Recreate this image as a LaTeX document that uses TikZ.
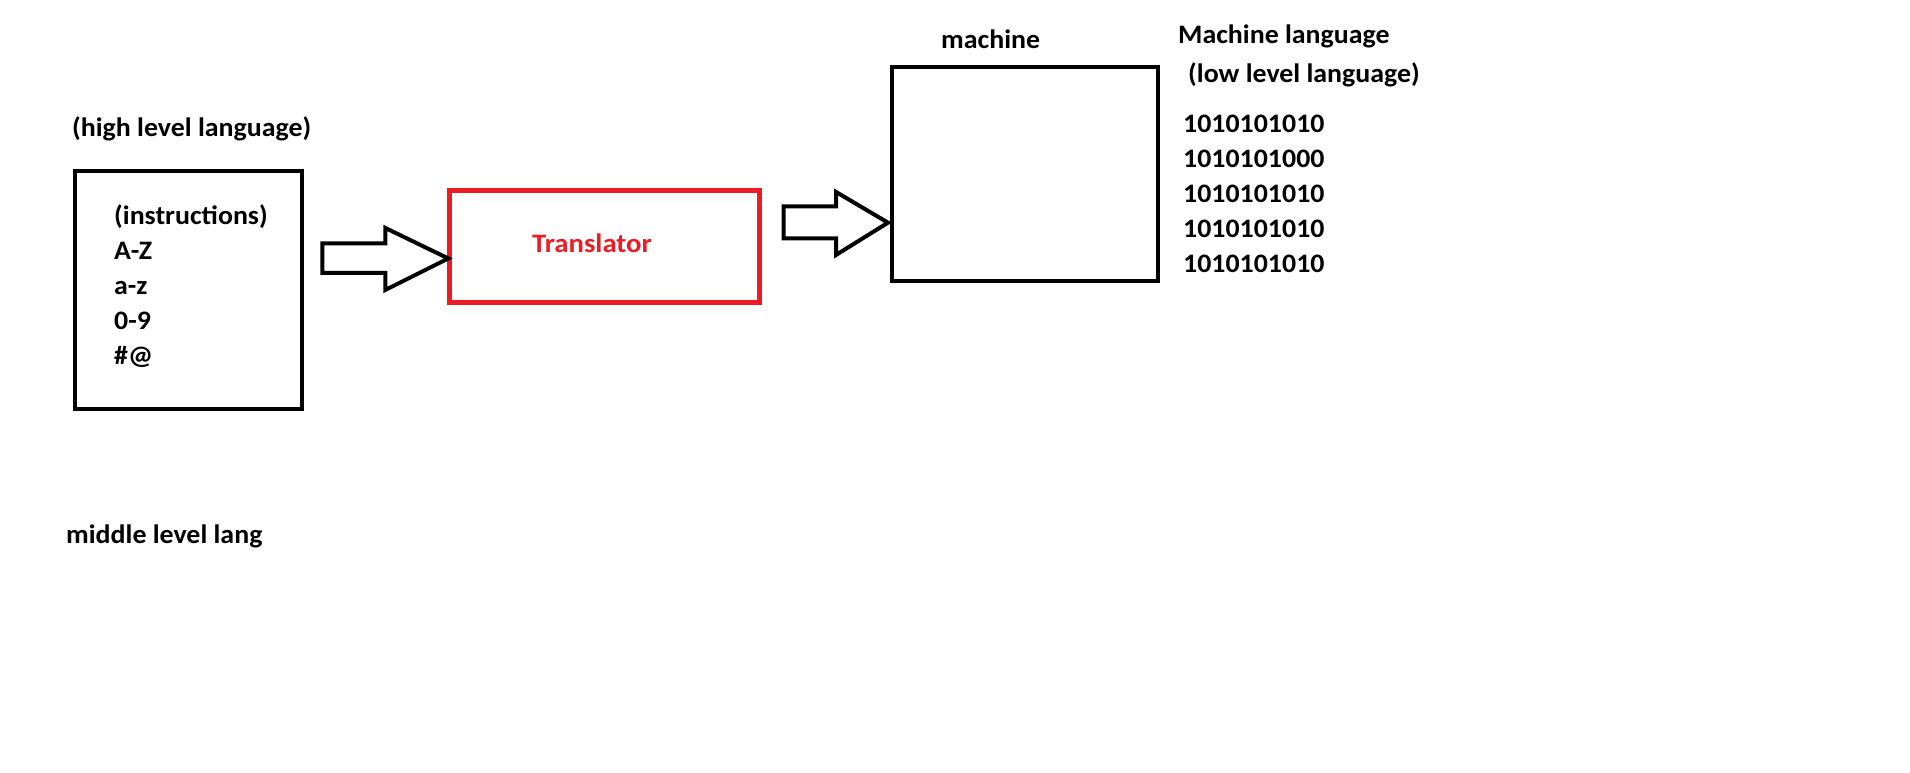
\documentclass[tikz,border=0pt]{standalone}
\usepackage{fontspec}
\setmainfont{Carlito}[FakeStretch=1.045]
\newfontfamily\widefont{Carlito}[FakeStretch=1.075]
\usetikzlibrary{calc}
\definecolor{paintred}{HTML}{ED1C24}
\begin{document}
\begin{tikzpicture}[x=1pt,y=-1pt,
  lbl/.style={anchor=base west,inner sep=0pt,font=\fontsize{26.67}{32}\selectfont\bfseries},
  blackbox/.style={draw=black,line width=4pt,inner sep=0pt,outer sep=0pt},
  redbox/.style={draw=paintred,line width=5pt,inner sep=0pt,outer sep=0pt},
  blockarrow/.style={draw=black,line width=4pt,fill=white,line join=miter}]
\useasboundingbox[fill=white] (0,0) rectangle (1910,772);
% boxes
\node[blackbox,minimum width=227.3pt,minimum height=237.7pt] (src) at (188.35,289.85) {};
\node[redbox,minimum width=310pt,minimum height=111.7pt] (trans) at (604.5,246.65) {};
\node[blackbox,minimum width=266pt,minimum height=213.7pt] (mach) at (1025,173.85) {};
% labels
\node[lbl] (hll) at (72,136) {(high level language)};
\node[lbl] (i1) at (114,224) {(instructions)};
\node[lbl] (i2) at (114,259) {A-Z};
\node[lbl] (i3) at (114,294) {a-z};
\node[lbl] (i4) at (114,329) {0-9};
\node[lbl] (i5) at (114,364) {\#@};
\node[lbl,text=paintred,font=\fontsize{26.67}{32}\widefont\bfseries] (tl) at (532,252.7) {Translator};
\node[lbl] (mlab) at (941,48) {machine};
\node[lbl] (ml) at (1178,43.3) {Machine language};
\node[lbl] (lll) at (1188,82.7) {(low level language)};
\node[lbl] (b1) at (1183,132.7) {1010101010};
\node[lbl] (b2) at (1183,167.7) {1010101000};
\node[lbl] (b3) at (1183,202.7) {1010101010};
\node[lbl] (b4) at (1183,237.7) {1010101010};
\node[lbl] (b5) at (1183,272.7) {1010101010};
\node[lbl] (mid) at (66,543.3) {middle level lang};
% block arrows
\coordinate (t1) at ($(trans.west)+(-1.2,11.8)$);
\coordinate (t2) at ($(mach.west)+(-4,48.8)$);
\draw[blockarrow] (t1) -- ++(-63,-30.5) -- ++(0,15.5) -- ++(-63,0) -- ++(0,29.5) -- ++(63,0) -- ++(0,17) -- cycle;
\draw[blockarrow] (t2) -- ++(-52,-30.7) -- ++(0,14.5) -- ++(-52.5,0) -- ++(0,32) -- ++(52.5,0) -- ++(0,16.5) -- cycle;
\end{tikzpicture}
\end{document}
